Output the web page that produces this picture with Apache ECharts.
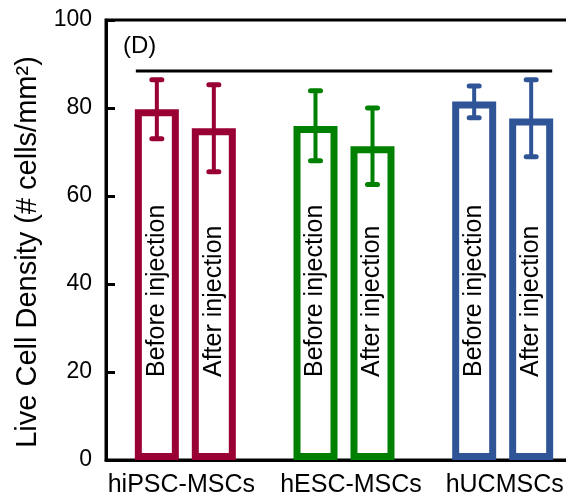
<!DOCTYPE html>
<html>
<head>
<meta charset="utf-8">
<script src="https://cdn.jsdelivr.net/npm/echarts@6/dist/echarts.min.js"></script>
<style>
  html, body { margin: 0; padding: 0; background: #fff; }
  #chart { width: 566px; height: 497px; }
</style>
</head>
<body>
<div id="chart"></div>
<script>
const categories = ['hiPSC-MSCs', 'hESC-MSCs', 'hUCMSCs']
const groupColors = ['#990033', '#008000', '#2f5597']

const beforeValues = [79.7, 75.9, 81.5]
const beforeLow = [73.0, 68.0, 77.8]
const beforeHigh = [86.4, 83.9, 85.0]

const afterValues = [75.4, 71.3, 77.6]
const afterLow = [65.5, 62.6, 68.9]
const afterHigh = [85.3, 80.0, 86.4]

// significance bar over all groups
const bracketValue = 88.4

const FONT = 'Liberation Sans, Arial, sans-serif'
const BAR_W = 44
const BAR_GAP = 13
const BORDER = 7

// the original category labels are not quite centred under their groups
const labelPads = [[0, 8, 0, 0], [0, 0, 0, 14], [0, 0, 0, 4]]

function barData(values) {
    return values.map((v, i) => ({
        value: v,
        itemStyle: { color: '#fff', borderColor: groupColors[i], borderWidth: BORDER }
    }))
}

function errData(low, high) {
    return categories.map((c, i) => [i, low[i], high[i]])
}

// shift: -1 for first bar in group, +1 for second
function errorRenderer(shift) {
    return function (params, api) {
        const idx = api.value(0)
        const top = api.coord([idx, api.value(2)])
        const bot = api.coord([idx, api.value(1)])
        const x = top[0] + shift * (BAR_W + BAR_GAP) / 2
        const style = { stroke: groupColors[idx], lineWidth: 5, lineCap: 'round' }
        return {
            type: 'group',
            children: [
                { type: 'line', shape: { x1: x, y1: top[1], x2: x, y2: bot[1] }, style: Object.assign({}, style, { lineWidth: 4 }) },
                { type: 'line', shape: { x1: x - 5, y1: top[1], x2: x + 5, y2: top[1] }, style },
                { type: 'line', shape: { x1: x - 5, y1: bot[1], x2: x + 5, y2: bot[1] }, style }
            ]
        }
    }
}

function barLabel(text) {
    return {
        show: true,
        formatter: text,
        position: 'insideBottom',
        distance: 83,
        rotate: 90,
        align: 'left',
        verticalAlign: 'middle',
        color: '#000',
        fontSize: 25,
        fontFamily: FONT
    }
}

const rich = {}
labelPads.forEach((p, i) => {
    rich['c' + i] = { fontSize: 25, fontFamily: FONT, color: '#000', padding: p }
})

const myChart = echarts.init(document.getElementById('chart'))

myChart.setOption({
    animation: false,
    backgroundColor: '#fff',
    title: {
        text: '(D)',
        left: 118,
        top: 29,
        textStyle: { fontSize: 24, fontWeight: 'normal', color: '#000', fontFamily: FONT }
    },
    grid: {
        left: 106, right: -16, top: 20, bottom: 37,
        outerBoundsMode: 'none',
        show: true, borderColor: '#000', borderWidth: 3, backgroundColor: 'transparent'
    },
    xAxis: {
        type: 'category',
        data: categories,
        axisLine: { lineStyle: { color: '#000', width: 3 } },
        axisTick: { show: false },
        axisLabel: {
            color: '#000', fontSize: 25, fontFamily: FONT, margin: 13, interval: 0,
            formatter: (v, i) => '{c' + i + '|' + v + '}',
            rich: rich
        }
    },
    yAxis: {
        type: 'value',
        min: 0, max: 100, interval: 20,
        name: 'Live Cell Density (# cells/mm²)',
        nameLocation: 'middle',
        nameGap: 60,
        nameTextStyle: { color: '#000', fontSize: 29, fontFamily: FONT, padding: [0, 24, 0, 0] },
        axisLine: { show: true, lineStyle: { color: '#000', width: 3 } },
        axisTick: { show: true, inside: true, length: 9, lineStyle: { color: '#000', width: 3 } },
        axisLabel: { color: '#000', fontSize: 23, fontFamily: FONT, margin: 14 },
        splitLine: { show: false }
    },
    series: [
        {
            name: 'Before injection',
            type: 'bar',
            barWidth: BAR_W,
            barGap: (BAR_GAP / BAR_W * 100).toFixed(1) + '%',
            data: barData(beforeValues),
            label: barLabel('Before injection'),
            z: 2
        },
        {
            name: 'After injection',
            type: 'bar',
            barWidth: BAR_W,
            data: barData(afterValues),
            label: barLabel('After injection'),
            z: 2
        },
        {
            type: 'custom',
            renderItem: errorRenderer(-1),
            data: errData(beforeLow, beforeHigh),
            z: 5
        },
        {
            type: 'custom',
            renderItem: errorRenderer(1),
            data: errData(afterLow, afterHigh),
            z: 5
        },
        {
            type: 'custom',
            data: [[0, categories.length - 1, bracketValue]],
            renderItem: function (params, api) {
                const a = api.coord([api.value(0), api.value(2)])
                const b = api.coord([api.value(1), api.value(2)])
                const half = BAR_W + BAR_GAP / 2 - 1
                return {
                    type: 'line',
                    shape: { x1: a[0] - half, y1: a[1], x2: b[0] + half, y2: b[1] },
                    style: { stroke: '#000', lineWidth: 3 }
                }
            },
            z: 5
        }
    ]
})
</script>
</body>
</html>
